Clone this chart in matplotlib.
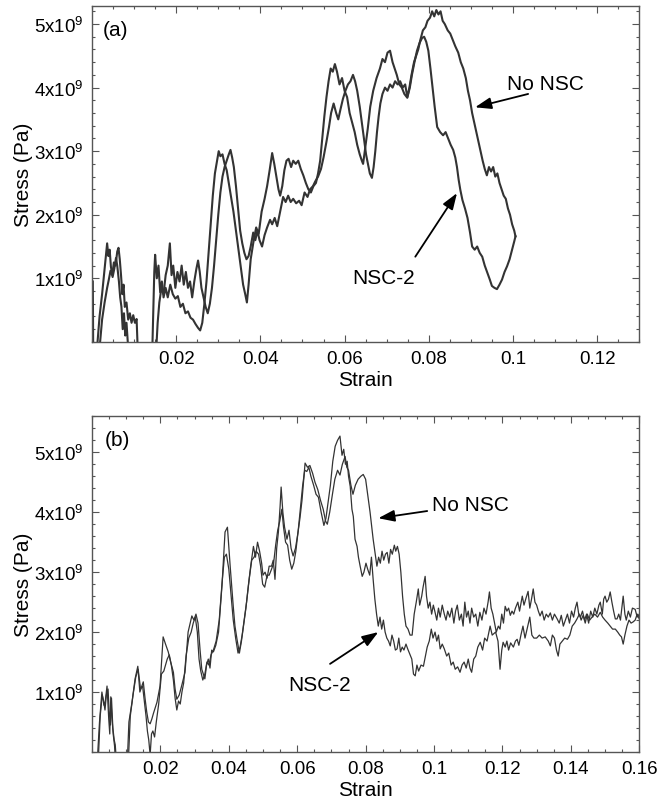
import numpy as np
import matplotlib
matplotlib.use("Agg")
import matplotlib.pyplot as plt
import matplotlib.ticker as mticker

plt.rcParams["font.family"] = ["Liberation Sans", "DejaVu Sans"]
plt.rcParams["mathtext.fontset"] = "custom"
plt.rcParams["mathtext.rm"] = "Liberation Sans"

# ---------------------------------------------------------------------------
# Data (strain, stress in units of 1e9 Pa)
# ---------------------------------------------------------------------------
# (a) top panel
a_nonsc = np.array([
    (0.0002, 0.95), (0.0003, -0.3),
    (0.0018, -0.1), (0.0024, 0.35), (0.003, 0.62), (0.0036, 0.85), (0.004, 0.98),
    (0.0044, 1.12), (0.0048, 1.05), (0.0052, 1.25), (0.0056, 1.2), (0.006, 1.42),
    (0.0063, 1.48), (0.0066, 1.3), (0.0069, 1.05), (0.0072, 0.75), (0.0075, 0.9),
    (0.0078, 0.55), (0.0082, 0.62), (0.0086, 0.35), (0.009, 0.45), (0.0094, 0.3),
    (0.0098, 0.42), (0.0102, 0.3), (0.0106, 0.36), (0.0108, 0.0), (0.011, -0.3),
    (0.0152, -0.2), (0.0156, 0.3), (0.016, 0.62), (0.0165, 0.85), (0.017, 0.75),
    (0.0175, 1.05), (0.018, 1.2), (0.0185, 1.55), (0.0189, 1.05), (0.0193, 1.2),
    (0.0198, 0.85), (0.0203, 1.1), (0.0208, 0.95), (0.0213, 1.2), (0.0218, 0.9),
    (0.0223, 1.1), (0.0228, 0.85), (0.0233, 0.95), (0.0238, 0.7), (0.0243, 0.95),
    (0.0248, 1.15), (0.0252, 1.28), (0.0256, 1.1), (0.026, 0.85), (0.0265, 0.7),
    (0.027, 0.55), (0.0275, 0.45), (0.028, 0.6), (0.0285, 0.85), (0.029, 1.2),
    (0.0295, 1.6), (0.03, 2.0), (0.0305, 2.35), (0.031, 2.6), (0.0315, 2.75),
    (0.032, 2.85), (0.0325, 2.95), (0.0329, 3.02), (0.0333, 2.9), (0.0337, 2.75),
    (0.0342, 2.45), (0.0347, 2.1), (0.0352, 1.75), (0.0357, 1.55), (0.0362, 1.4),
    (0.0367, 1.3), (0.0372, 1.35), (0.0377, 1.5), (0.0383, 1.72), (0.0388, 1.6),
    (0.0393, 1.75), (0.0398, 1.6), (0.0404, 1.5), (0.041, 1.68), (0.0416, 1.8),
    (0.0423, 1.92), (0.0428, 1.85), (0.0434, 1.95), (0.044, 1.82), (0.0447, 2.05),
    (0.0454, 2.28), (0.046, 2.2), (0.0466, 2.3), (0.0472, 2.2), (0.0478, 2.25),
    (0.0485, 2.18), (0.0492, 2.22), (0.0498, 2.15), (0.0505, 2.35), (0.0512, 2.28),
    (0.0518, 2.4), (0.0525, 2.45), (0.053, 2.52), (0.0537, 2.6), (0.0544, 2.72),
    (0.055, 2.9), (0.0557, 3.15), (0.0563, 3.38), (0.0568, 3.6), (0.0574, 3.75),
    (0.058, 3.6), (0.0585, 3.5), (0.059, 3.65), (0.0596, 3.82), (0.0602, 3.95),
    (0.0608, 4.05), (0.0614, 4.1), (0.062, 4.2), (0.0625, 4.1), (0.063, 3.95),
    (0.0636, 3.7), (0.0641, 3.45), (0.0646, 3.2), (0.0651, 2.95), (0.0656, 2.78),
    (0.066, 2.65), (0.0665, 2.58), (0.0669, 2.75), (0.0673, 3.0), (0.0677, 3.3),
    (0.0681, 3.55), (0.0685, 3.75), (0.069, 3.9), (0.0696, 4.0), (0.0702, 3.95),
    (0.0708, 4.05), (0.0714, 4.0), (0.072, 4.1), (0.0726, 4.05), (0.0732, 4.1),
    (0.0738, 4.0), (0.0744, 4.05), (0.0749, 3.85), (0.0754, 4.0), (0.0759, 4.2),
    (0.0765, 4.4), (0.077, 4.5), (0.0775, 4.6), (0.078, 4.75), (0.0786, 4.9),
    (0.0792, 4.95), (0.0797, 5.05), (0.0803, 5.1), (0.0808, 5.2), (0.0813, 5.12),
    (0.0818, 5.22), (0.0823, 5.15), (0.0828, 5.2), (0.0833, 5.05), (0.0838, 5.0),
    (0.0845, 4.9), (0.0851, 4.85), (0.0857, 4.75), (0.0863, 4.65), (0.087, 4.55),
    (0.0876, 4.4), (0.0882, 4.3), (0.0888, 4.15), (0.0893, 3.95), (0.0898, 3.8),
    (0.0903, 3.6), (0.0908, 3.45), (0.0913, 3.3), (0.0918, 3.15), (0.0923, 3.0),
    (0.0928, 2.85), (0.0933, 2.72), (0.0938, 2.62), (0.0943, 2.75), (0.0948, 2.68),
    (0.0953, 2.75), (0.0958, 2.6), (0.0963, 2.65), (0.0968, 2.5), (0.0973, 2.4),
    (0.0978, 2.3), (0.0983, 2.25), (0.0988, 2.1), (0.0993, 2.0), (0.0998, 1.85),
    (0.1003, 1.75), (0.1006, 1.66),
])
a_nsc2 = np.array([
    (0.0012, -0.1), (0.0018, 0.4), (0.0024, 0.75), (0.003, 1.15), (0.0034, 1.4),
    (0.0036, 1.55), (0.0039, 1.35), (0.0042, 1.45), (0.0045, 1.18), (0.0049, 1.02),
    (0.0053, 1.15), (0.0057, 1.32), (0.006, 1.2), (0.0064, 0.95), (0.0067, 0.7),
    (0.007, 0.55), (0.0073, 0.2), (0.0076, 0.45), (0.0079, 0.1), (0.0082, 0.3),
    (0.0085, 0.0), (0.0088, -0.3),
    (0.0143, -0.2), (0.0146, 0.6), (0.0148, 1.1), (0.015, 1.37), (0.0154, 1.0),
    (0.0158, 1.2), (0.0162, 0.78), (0.0166, 0.95), (0.017, 0.7), (0.0175, 0.85),
    (0.018, 0.7), (0.0186, 0.9), (0.0192, 0.75), (0.0198, 0.68), (0.0204, 0.72),
    (0.021, 0.55), (0.0216, 0.6), (0.0222, 0.45), (0.0228, 0.48), (0.0234, 0.38),
    (0.024, 0.35), (0.0246, 0.28), (0.0252, 0.22), (0.0257, 0.18), (0.0262, 0.3),
    (0.0267, 0.6), (0.0272, 0.95), (0.0277, 1.4), (0.0282, 1.85), (0.0287, 2.3),
    (0.0292, 2.65), (0.0297, 2.85), (0.0301, 3.0), (0.0305, 2.92), (0.031, 2.95),
    (0.0315, 2.8), (0.032, 2.7), (0.0325, 2.5), (0.033, 2.3), (0.0336, 2.05),
    (0.0342, 1.75), (0.0348, 1.45), (0.0354, 1.15), (0.0359, 0.9), (0.0364, 0.75),
    (0.0368, 0.62), (0.0372, 0.9), (0.0377, 1.3), (0.0383, 1.55), (0.039, 1.8),
    (0.0396, 1.7), (0.0403, 2.05), (0.041, 2.25), (0.0416, 2.45), (0.0422, 2.7),
    (0.0428, 2.97), (0.0433, 2.8), (0.0438, 2.6), (0.0443, 2.4), (0.0447, 2.3),
    (0.0452, 2.45), (0.0457, 2.7), (0.0462, 2.85), (0.0467, 2.88), (0.0473, 2.75),
    (0.0478, 2.85), (0.0484, 2.8), (0.049, 2.85), (0.0496, 2.72), (0.0502, 2.62),
    (0.0508, 2.5), (0.0514, 2.4), (0.052, 2.35), (0.0526, 2.45), (0.0532, 2.5),
    (0.0537, 2.65), (0.0542, 2.85), (0.0547, 3.2), (0.0552, 3.55), (0.0557, 3.85),
    (0.0562, 4.1), (0.0567, 4.3), (0.0572, 4.25), (0.0577, 4.37), (0.0582, 4.25),
    (0.0588, 4.05), (0.0594, 4.15), (0.06, 3.95), (0.0606, 3.85), (0.0612, 3.6),
    (0.0618, 3.45), (0.0624, 3.3), (0.063, 3.1), (0.0636, 2.95), (0.0641, 2.85),
    (0.0644, 2.8), (0.0649, 3.05), (0.0655, 3.35), (0.0661, 3.7), (0.0668, 3.95),
    (0.0676, 4.15), (0.0684, 4.3), (0.069, 4.45), (0.0696, 4.4), (0.0702, 4.55),
    (0.0708, 4.58), (0.0714, 4.4), (0.0719, 4.3), (0.0724, 4.2), (0.073, 4.05),
    (0.0736, 4.0), (0.0742, 3.9), (0.0749, 3.84), (0.0755, 4.0), (0.076, 4.2),
    (0.0766, 4.4), (0.0772, 4.58), (0.0778, 4.7), (0.0784, 4.78), (0.0789, 4.8),
    (0.0794, 4.72), (0.0799, 4.58), (0.0804, 4.3), (0.0808, 4.06), (0.0814, 3.7),
    (0.082, 3.38), (0.0827, 3.3), (0.0834, 3.25), (0.084, 3.3), (0.0846, 3.2),
    (0.0852, 3.1), (0.0858, 3.02), (0.0863, 2.9), (0.0867, 2.75), (0.0871, 2.55),
    (0.0875, 2.39), (0.088, 2.23), (0.0886, 2.1), (0.0892, 1.95), (0.0898, 1.72),
    (0.0903, 1.5), (0.0909, 1.45), (0.0915, 1.5), (0.0921, 1.4), (0.0927, 1.34),
    (0.0933, 1.2), (0.0939, 1.09), (0.0945, 0.98), (0.095, 0.88), (0.0956, 0.85),
    (0.0962, 0.83), (0.0968, 0.9), (0.0974, 0.98), (0.098, 1.1), (0.0986, 1.19),
    (0.0992, 1.3), (0.0998, 1.45), (0.1003, 1.58), (0.1006, 1.66),
])

# (b) bottom panel
b_nonsc = np.array([
    (0.0015, -0.2), (0.0022, 0.5), (0.0029, 1.0), (0.0035, 0.78), (0.0039, 0.85),
    (0.0044, 1.1), (0.0049, 0.55), (0.0052, 0.3), (0.0055, 0.92), (0.0058, 0.6),
    (0.0062, 0.3), (0.0066, 0.1), (0.0069, -0.2),
    (0.0103, -0.2), (0.0108, 0.5), (0.0117, 0.83), (0.0126, 1.22), (0.0134, 1.43),
    (0.014, 1.0), (0.015, 1.17), (0.0155, 0.9), (0.016, 0.67), (0.0165, 0.5),
    (0.017, 0.47), (0.0175, 0.55), (0.018, 0.65), (0.019, 0.83), (0.0199, 1.1),
    (0.0208, 1.92), (0.0215, 1.8), (0.0223, 1.67), (0.023, 1.5), (0.0238, 1.33),
    (0.0243, 1.05), (0.0248, 0.88), (0.0255, 0.95), (0.0262, 1.1), (0.0272, 1.33),
    (0.0281, 2.0), (0.0292, 2.27), (0.0298, 2.2), (0.0304, 2.3), (0.031, 2.15),
    (0.0316, 1.7), (0.0321, 1.38), (0.033, 1.22), (0.0335, 1.45), (0.034, 1.55),
    (0.0345, 1.4), (0.035, 1.7), (0.0355, 1.67), (0.0362, 1.78), (0.037, 2.0),
    (0.038, 2.77), (0.0389, 3.67), (0.0396, 3.75), (0.0404, 3.1), (0.0413, 2.43),
    (0.0418, 2.1), (0.0424, 1.88), (0.0431, 1.65), (0.0437, 1.85), (0.0443, 2.1),
    (0.045, 2.4), (0.0457, 2.77), (0.0464, 3.1), (0.0472, 3.43), (0.0478, 3.25),
    (0.0484, 3.5), (0.049, 3.35), (0.0496, 3.15), (0.05, 2.95), (0.0506, 3.0),
    (0.0512, 2.9), (0.0518, 3.1), (0.0525, 3.1), (0.053, 3.2), (0.0535, 2.88),
    (0.054, 3.4), (0.0545, 3.67), (0.055, 4.1), (0.0553, 4.42), (0.0558, 4.0),
    (0.0563, 3.75), (0.057, 3.55), (0.0576, 3.7), (0.0582, 3.4), (0.0588, 3.27),
    (0.0595, 3.4), (0.0602, 3.65), (0.0608, 3.9), (0.0614, 4.2), (0.0619, 4.55),
    (0.0623, 4.82), (0.063, 4.75), (0.0637, 4.78), (0.0645, 4.65), (0.0652, 4.5),
    (0.066, 4.38), (0.0668, 4.2), (0.0676, 4.05), (0.0683, 3.85), (0.0688, 3.8),
    (0.0695, 4.0), (0.0703, 4.3), (0.071, 4.55), (0.0718, 4.7), (0.0725, 4.62),
    (0.0732, 4.8), (0.074, 4.93), (0.0745, 4.75), (0.075, 4.7), (0.0757, 4.45),
    (0.0763, 4.3), (0.077, 4.45), (0.0778, 4.55), (0.0786, 4.6), (0.0793, 4.63),
    (0.08, 4.55), (0.0806, 4.3), (0.0813, 4.0), (0.0818, 3.75), (0.0822, 3.55),
    (0.0828, 3.3), (0.0833, 3.1), (0.0838, 3.25), (0.0843, 3.15), (0.0848, 3.35),
    (0.0853, 3.2), (0.0858, 3.3), (0.0863, 3.33), (0.0868, 3.15), (0.0873, 3.38),
    (0.0878, 3.3), (0.0884, 3.45), (0.0888, 3.35), (0.0893, 3.43), (0.0898, 3.3),
    (0.0903, 3.0), (0.0908, 2.6), (0.0913, 2.3), (0.0918, 2.1), (0.0924, 2.05),
    (0.093, 1.95), (0.0936, 1.95), (0.0942, 2.3), (0.0948, 2.5), (0.0954, 2.72),
    (0.0958, 2.45), (0.0964, 2.6), (0.0968, 2.75), (0.0974, 2.93), (0.0978, 2.6),
    (0.0983, 2.4), (0.0988, 2.5), (0.0993, 2.3), (0.0998, 2.45), (0.1003, 2.33),
    (0.1008, 2.2), (0.1013, 2.4), (0.1018, 2.25), (0.1024, 2.45), (0.103, 2.3),
    (0.1035, 2.2), (0.104, 2.35), (0.1046, 2.25), (0.1052, 2.4), (0.1058, 2.15),
    (0.1063, 2.35), (0.1068, 2.45), (0.1074, 2.2), (0.108, 2.3), (0.1085, 2.1),
    (0.109, 2.5), (0.1095, 2.25), (0.11, 2.35), (0.1105, 2.15), (0.111, 2.4),
    (0.1116, 2.25), (0.1122, 2.3), (0.1128, 2.1), (0.1134, 2.33), (0.114, 2.2),
    (0.1146, 2.4), (0.1152, 2.3), (0.1158, 2.5), (0.1162, 2.67), (0.1167, 2.4),
    (0.1172, 2.3), (0.1177, 2.15), (0.1182, 2.0), (0.1188, 2.1), (0.1193, 2.05),
    (0.1198, 2.3), (0.1203, 2.15), (0.1208, 2.43), (0.1213, 2.35), (0.1218, 2.4),
    (0.1223, 2.28), (0.1228, 2.35), (0.1233, 2.3), (0.1238, 2.4), (0.1245, 2.5),
    (0.125, 2.35), (0.1258, 2.6), (0.1263, 2.45), (0.1268, 2.55), (0.1275, 2.68),
    (0.128, 2.4), (0.1285, 2.55), (0.129, 2.72), (0.1295, 2.5), (0.13, 2.45),
    (0.1305, 2.35), (0.131, 2.27), (0.1316, 2.35), (0.1322, 2.2), (0.1328, 2.3),
    (0.1334, 2.25), (0.134, 2.32), (0.1346, 2.2), (0.1352, 2.3), (0.136, 2.22),
    (0.1366, 2.15), (0.1372, 2.28), (0.1378, 2.1), (0.1384, 2.2), (0.139, 2.3),
    (0.1396, 2.15), (0.1402, 2.35), (0.1408, 2.25), (0.1413, 2.4), (0.1418, 2.5),
    (0.1423, 2.3), (0.1428, 2.25), (0.1434, 2.35), (0.144, 2.2), (0.1446, 2.3),
    (0.1452, 2.15), (0.1458, 2.35), (0.1464, 2.25), (0.147, 2.4), (0.1476, 2.3),
    (0.1482, 2.45), (0.1486, 2.5), (0.1492, 2.3), (0.1496, 2.55), (0.15, 2.6),
    (0.1505, 2.5), (0.151, 2.55), (0.1515, 2.67), (0.152, 2.5), (0.1525, 2.35),
    (0.153, 2.22), (0.1535, 2.22), (0.154, 2.3), (0.1545, 2.2), (0.155, 2.45),
    (0.1553, 2.6), (0.1558, 2.3), (0.1562, 2.2), (0.1568, 2.35), (0.1574, 2.25),
    (0.158, 2.4), (0.1588, 2.38), (0.1594, 2.25), (0.16, 2.3),
])
b_nsc2 = np.array([
    (0.0018, -0.2), (0.0024, 0.6), (0.003, 0.95), (0.0034, 0.85), (0.0038, 0.7),
    (0.0042, 0.95), (0.0047, 1.05), (0.005, 0.7), (0.0054, 0.45), (0.0057, 0.9),
    (0.0061, 0.4), (0.0065, 0.2), (0.0068, 0.12), (0.0072, -0.2),
    (0.0106, -0.2), (0.0112, 0.6), (0.012, 0.95), (0.0128, 1.25), (0.0135, 1.38),
    (0.0142, 1.05), (0.0148, 1.1), (0.0153, 0.85), (0.0158, 0.6), (0.0162, 0.35),
    (0.0166, 0.2), (0.017, -0.05), (0.0174, 0.3), (0.0178, 0.35), (0.0183, 0.25),
    (0.0188, 0.5), (0.0195, 0.8), (0.0203, 1.3), (0.021, 1.35), (0.0215, 1.45),
    (0.022, 1.55), (0.0226, 1.62), (0.0232, 1.45), (0.0238, 1.2), (0.0243, 0.9),
    (0.0248, 0.7), (0.0253, 0.85), (0.0258, 0.8), (0.0263, 1.0), (0.0268, 1.15),
    (0.0275, 1.6), (0.0283, 1.9), (0.029, 2.0), (0.0296, 2.15), (0.0302, 2.25),
    (0.0308, 2.0), (0.0313, 1.55), (0.0318, 1.35), (0.0324, 1.2), (0.033, 1.3),
    (0.0336, 1.5), (0.0342, 1.45), (0.0348, 1.62), (0.0355, 1.7), (0.0363, 1.85),
    (0.0372, 2.2), (0.038, 2.8), (0.0387, 3.25), (0.0393, 3.3), (0.04, 3.05),
    (0.0407, 2.6), (0.0413, 2.2), (0.042, 1.9), (0.0427, 1.65), (0.0433, 1.75),
    (0.0439, 1.95), (0.0446, 2.25), (0.0452, 2.5), (0.046, 2.9), (0.0467, 3.2),
    (0.0474, 3.25), (0.048, 3.35), (0.0487, 3.3), (0.0493, 3.1), (0.0499, 2.8),
    (0.0505, 2.75), (0.0512, 2.95), (0.0518, 2.95), (0.0525, 3.05), (0.0531, 3.15),
    (0.0537, 3.45), (0.0543, 3.7), (0.0549, 3.85), (0.0555, 4.05), (0.056, 3.75),
    (0.0566, 3.5), (0.0572, 3.45), (0.0578, 3.2), (0.0584, 3.05), (0.059, 3.15),
    (0.0596, 3.35), (0.0603, 3.7), (0.061, 4.1), (0.0616, 4.45), (0.0622, 4.7),
    (0.0628, 4.68), (0.0634, 4.75), (0.064, 4.6), (0.0648, 4.45), (0.0655, 4.3),
    (0.0662, 4.25), (0.067, 4.0), (0.0678, 3.78), (0.0684, 3.9), (0.069, 4.15),
    (0.0697, 4.45), (0.0704, 4.85), (0.0711, 5.1), (0.0718, 5.2), (0.0725, 5.27),
    (0.0731, 4.95), (0.0736, 5.05), (0.0741, 4.8), (0.0746, 4.85), (0.075, 4.6),
    (0.0755, 4.43), (0.076, 4.05), (0.0764, 3.93), (0.0769, 3.55), (0.0775, 3.43),
    (0.0779, 3.25), (0.0784, 3.1), (0.079, 2.93), (0.0795, 3.0), (0.0801, 3.15),
    (0.0806, 3.05), (0.0812, 2.95), (0.0817, 3.25), (0.0822, 2.88), (0.0827, 2.55),
    (0.0832, 2.3), (0.0837, 2.1), (0.0842, 2.25), (0.0847, 2.05), (0.0852, 2.2),
    (0.0857, 2.0), (0.0862, 1.9), (0.0867, 1.85), (0.0872, 1.77), (0.0877, 1.95),
    (0.0882, 1.85), (0.0887, 1.7), (0.0892, 1.72), (0.0897, 1.9), (0.0902, 1.67),
    (0.0907, 1.75), (0.0912, 1.7), (0.0918, 1.8), (0.0923, 1.72), (0.0928, 1.65),
    (0.0935, 1.55), (0.094, 1.3), (0.0945, 1.27), (0.095, 1.45), (0.0955, 1.35),
    (0.0962, 1.45), (0.0969, 1.43), (0.0975, 1.6), (0.098, 1.75), (0.0986, 1.85),
    (0.0992, 2.05), (0.0997, 1.9), (0.1003, 2.0), (0.1008, 1.85), (0.1013, 1.95),
    (0.1018, 1.72), (0.1024, 1.8), (0.103, 1.72), (0.1037, 1.6), (0.1043, 1.65),
    (0.105, 1.45), (0.1056, 1.5), (0.1062, 1.38), (0.1069, 1.42), (0.1076, 1.33),
    (0.1082, 1.45), (0.1088, 1.5), (0.1094, 1.4), (0.11, 1.55), (0.1105, 1.4),
    (0.111, 1.33), (0.1116, 1.55), (0.1122, 1.6), (0.1128, 1.75), (0.1135, 1.83),
    (0.1142, 1.7), (0.1148, 1.9), (0.1155, 1.85), (0.1164, 2.1), (0.117, 1.95),
    (0.118, 2.0), (0.1187, 1.85), (0.1193, 1.38), (0.1198, 1.7), (0.1202, 1.83),
    (0.1208, 1.75), (0.1213, 1.85), (0.1218, 1.7), (0.1224, 1.82), (0.1232, 1.75),
    (0.1238, 1.85), (0.1243, 1.88), (0.1248, 1.78), (0.1254, 1.95), (0.126, 2.1),
    (0.1266, 1.9), (0.1272, 2.05), (0.128, 2.25), (0.1286, 1.95), (0.1292, 1.9),
    (0.13, 1.9), (0.1308, 1.95), (0.1316, 1.9), (0.1325, 1.92), (0.1334, 1.85),
    (0.134, 1.77), (0.1346, 1.95), (0.1352, 1.9), (0.1358, 1.7), (0.1363, 1.6),
    (0.1368, 1.8), (0.1375, 1.85), (0.1382, 1.9), (0.139, 1.88), (0.1397, 1.95),
    (0.1404, 2.1), (0.1411, 2.15), (0.1418, 2.22), (0.1425, 2.3), (0.143, 2.2),
    (0.1436, 2.28), (0.1442, 2.15), (0.1448, 2.3), (0.1455, 2.2), (0.1462, 2.25),
    (0.147, 2.3), (0.1478, 2.25), (0.1486, 2.33), (0.1493, 2.25), (0.15, 2.2),
    (0.1508, 2.15), (0.1515, 2.1), (0.1522, 2.05), (0.153, 2.05), (0.1537, 2.0),
    (0.1543, 1.95), (0.1548, 1.92), (0.1553, 1.8), (0.1558, 1.95), (0.1564, 2.1),
    (0.157, 2.2), (0.1576, 2.15), (0.1582, 2.17), (0.1588, 2.2), (0.1594, 2.3),
    (0.16, 2.22),
])

x_ticks_a = [0.02, 0.04, 0.06, 0.08, 0.1, 0.12]
x_ticks_b = [0.02, 0.04, 0.06, 0.08, 0.1, 0.12, 0.14, 0.16]
y_ticks = [1, 2, 3, 4, 5]

# ---------------------------------------------------------------------------
SPINE = "#555555"
LINE = "#333333"


def style_axes(ax, xmax, ymax, xticks):
    ax.set_xlim(0, xmax)
    ax.set_ylim(0, ymax * 1e9)
    ax.set_xticks(xticks)
    ax.xaxis.set_major_formatter(mticker.FuncFormatter(lambda v, p: f"{v:g}"))
    ax.xaxis.set_minor_locator(mticker.MultipleLocator(0.005))
    ax.set_yticks([t * 1e9 for t in y_ticks])
    ax.yaxis.set_major_formatter(mticker.FuncFormatter(
        lambda v, p: r"$\mathregular{%dx10^9}$" % round(v / 1e9)))
    ax.yaxis.set_minor_locator(mticker.MultipleLocator(0.2e9))
    ax.tick_params(which="both", direction="in", top=True, right=True,
                   color=SPINE, width=0.8, labelsize=13.5)
    ax.tick_params(which="major", length=5, pad=6)
    ax.tick_params(which="minor", length=2.5)
    for s in ax.spines.values():
        s.set_color(SPINE)
        s.set_linewidth(1.0)
    ax.set_xlabel("Strain", fontsize=15, labelpad=2)
    ax.set_ylabel("Stress (Pa)", fontsize=15, labelpad=1)


def arrow(ax, tail, head):
    ax.annotate("", xy=(head[0], head[1] * 1e9), xytext=(tail[0], tail[1] * 1e9),
                arrowprops=dict(arrowstyle="-|>,head_length=0.7,head_width=0.25",
                                color="black", lw=1.3, mutation_scale=14,
                                shrinkA=0, shrinkB=0))


fig = plt.figure(figsize=(6.57, 8.03), dpi=100)
ax_a = fig.add_axes([0.140, 0.573, 0.833, 0.418])
ax_b = fig.add_axes([0.140, 0.0623, 0.833, 0.418])

# ── (a) ────────────────────────────────────────────────────────────────
ax_a.plot(a_nonsc[:, 0], a_nonsc[:, 1] * 1e9, color=LINE, lw=1.5)
ax_a.plot(a_nsc2[:, 0], a_nsc2[:, 1] * 1e9, color=LINE, lw=1.5)
style_axes(ax_a, 0.13, 5.28, x_ticks_a)
ax_a.text(0.02, 0.93, "(a)", transform=ax_a.transAxes, fontsize=15, va="center")
ax_a.text(0.0986, 4.06e9, "No NSC", fontsize=15, va="center")
arrow(ax_a, (0.1036, 3.9), (0.091, 3.69))
ax_a.text(0.0618, 1.02e9, "NSC-2", fontsize=15, va="center")
arrow(ax_a, (0.0768, 1.34), (0.0867, 2.34))

# ── (b) ────────────────────────────────────────────────────────────────
ax_b.plot(b_nonsc[:, 0], b_nonsc[:, 1] * 1e9, color=LINE, lw=0.9)
ax_b.plot(b_nsc2[:, 0], b_nsc2[:, 1] * 1e9, color=LINE, lw=0.9)
style_axes(ax_b, 0.16, 5.6, x_ticks_b)
ax_b.text(0.024, 0.93, "(b)", transform=ax_b.transAxes, fontsize=15, va="center")
ax_b.text(0.0994, 4.13e9, "No NSC", fontsize=15, va="center")
arrow(ax_b, (0.098, 4.02), (0.0837, 3.9))
ax_b.text(0.0573, 1.13e9, "NSC-2", fontsize=15, va="center")
arrow(ax_b, (0.0696, 1.47), (0.0837, 2.0))

fig.savefig("out.png", dpi=100, facecolor="white")
